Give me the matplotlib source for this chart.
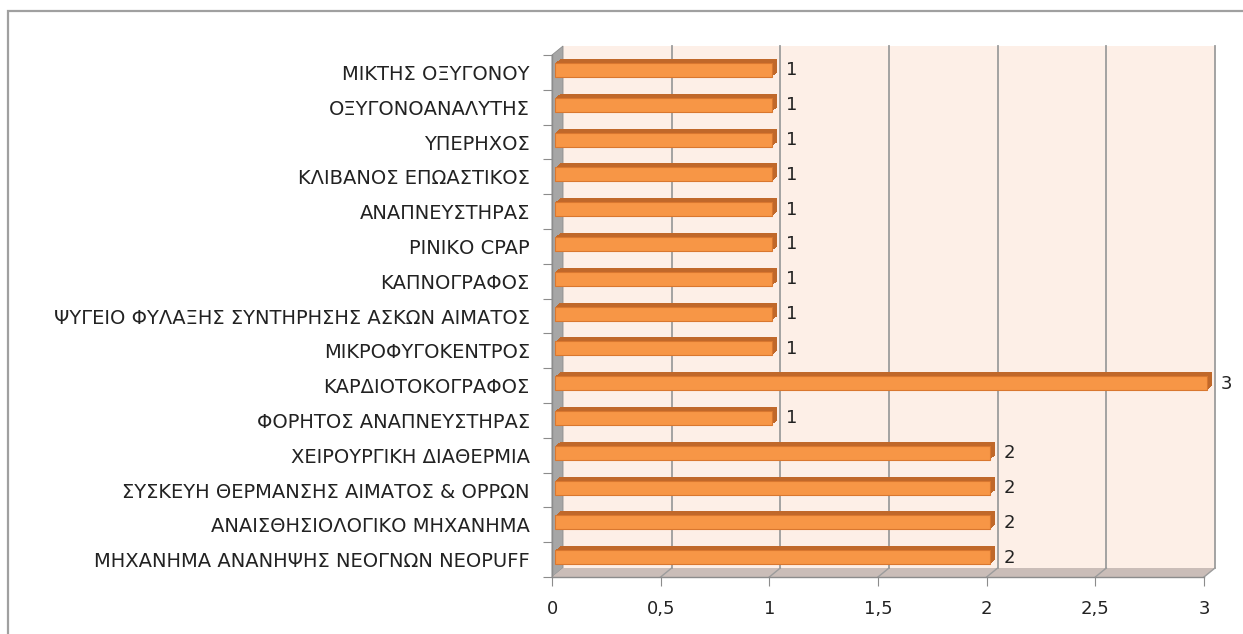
import matplotlib.pyplot as plt
from matplotlib.patches import Rectangle, Polygon
from matplotlib.transforms import offset_copy

# equipment names, top to bottom as in the chart
categories = [
    "ΜΙΚΤΗΣ ΟΞΥΓΟΝΟΥ",
    "ΟΞΥΓΟΝΟΑΝΑΛΥΤΗΣ",
    "ΥΠΕΡΗΧΟΣ",
    "ΚΛΙΒΑΝΟΣ ΕΠΩΑΣΤΙΚΟΣ",
    "ΑΝΑΠΝΕΥΣΤΗΡΑΣ",
    "ΡΙΝΙΚΟ CPAP",
    "ΚΑΠΝΟΓΡΑΦΟΣ",
    "ΨΥΓΕΙΟ ΦΥΛΑΞΗΣ ΣΥΝΤΗΡΗΣΗΣ ΑΣΚΩΝ ΑΙΜΑΤΟΣ",
    "ΜΙΚΡΟΦΥΓΟΚΕΝΤΡΟΣ",
    "ΚΑΡΔΙΟΤΟΚΟΓΡΑΦΟΣ",
    "ΦΟΡΗΤΟΣ ΑΝΑΠΝΕΥΣΤΗΡΑΣ",
    "ΧΕΙΡΟΥΡΓΙΚΗ ΔΙΑΘΕΡΜΙΑ",
    "ΣΥΣΚΕΥΗ ΘΕΡΜΑΝΣΗΣ ΑΙΜΑΤΟΣ & ΟΡΡΩΝ",
    "ΑΝΑΙΣΘΗΣΙΟΛΟΓΙΚΟ ΜΗΧΑΝΗΜΑ",
    "ΜΗΧΑΝΗΜΑ ΑΝΑΝΗΨΗΣ ΝΕΟΓΝΩΝ NEOPUFF",
]
counts = [1, 1, 1, 1, 1, 1, 1, 1, 1, 3, 1, 2, 2, 2, 2]

x_ticks = [0, 0.5, 1, 1.5, 2, 2.5, 3]
x_tick_labels = ["0", "0,5", "1", "1,5", "2", "2,5", "3"]

W, H = 1243, 634
fig = plt.figure(figsize=(W / 100, H / 100), dpi=100)
fig.patch.set_facecolor("white")

# outer chart frame (goes off the right and bottom edge)
fig.add_artist(Rectangle((8 / W, -0.05), 1.05, 1 - 11 / H + 0.05,
                         transform=fig.transFigure, fill=False,
                         edgecolor="#a0a0a0", linewidth=1.6, clip_on=False))

ax = fig.add_axes([552 / W, (H - 577) / H, 652 / W, 522 / H])
ax.set_xlim(0, 3)
ax.set_ylim(-0.5, len(categories) - 0.5)
ax.set_facecolor("none")
for s in ax.spines.values():
    s.set_visible(False)

n = len(categories)
ypos = list(range(n))[::-1]
y0, y1 = -0.5, n - 0.5

# depth of the fake 3d box, in data units
DX = 11 * 3 / 652
DY = 9 * n / 522

# back wall
ax.add_patch(Rectangle((DX, y0 + DY), 3, n, facecolor="#fdefe7",
                       edgecolor="none", zorder=0, clip_on=False))
# left side wall
ax.add_patch(Polygon([(0, y0), (0, y1), (DX, y1 + DY), (DX, y0 + DY)],
                     closed=True, facecolor="#a6a6a6", edgecolor="#8c8c8c",
                     linewidth=0.6, zorder=1, clip_on=False))
# floor
ax.add_patch(Polygon([(0, y0), (3, y0), (3 + DX, y0 + DY), (DX, y0 + DY)],
                     closed=True, facecolor="#cabdb8", edgecolor="none",
                     zorder=1, clip_on=False))

# gridlines on the back wall and their diagonals on the floor
for xv in x_ticks[1:]:
    ax.plot([xv + DX, xv + DX], [y0 + DY, y1 + DY], color="#9c9c9c",
            linewidth=1.3, zorder=1.5, clip_on=False)
    ax.plot([xv, xv + DX], [y0, y0 + DY], color="#9c9c9c",
            linewidth=1.0, zorder=1.5, clip_on=False)

# front axis lines
ax.plot([0, 3], [y0, y0], color="#8c8c8c", linewidth=1.0, zorder=2, clip_on=False)
ax.plot([0, 0], [y0, y1], color="#8c8c8c", linewidth=1.0, zorder=2, clip_on=False)

# bars: dark extrusion behind the orange front face
bar_h = 0.4
for k in range(8, 2, -1):
    tr = offset_copy(ax.transData, fig=fig, x=k, y=k * 0.8, units="dots")
    ax.barh(ypos, counts, height=bar_h, color="#c0682a", edgecolor="none",
            transform=tr, zorder=3, clip_on=False)
tr_front = offset_copy(ax.transData, fig=fig, x=3, y=2.4, units="dots")
ax.barh(ypos, counts, height=bar_h, color="#f79646", edgecolor="#d9772f",
        linewidth=0.8, transform=tr_front, zorder=4, clip_on=False)

# value labels
tr_lab = offset_copy(ax.transData, fig=fig, x=17, y=2, units="dots")
for yv, c in zip(ypos, counts):
    ax.text(c, yv, str(c), transform=tr_lab, ha="left", va="center",
            fontsize=13, color="#222222", zorder=5)

# ticks
ax.set_xticks(x_ticks)
ax.set_xticklabels(x_tick_labels)
ax.tick_params(axis="x", length=6.5, width=0.8, color="#8c8c8c",
               pad=10, labelsize=13, labelcolor="#222222")
ax.set_yticks(ypos)
ax.set_yticklabels(categories)
ax.set_yticks([b - 0.5 for b in range(n + 1)], minor=True)
ax.tick_params(axis="y", which="major", length=0, pad=16,
               labelsize=14, labelcolor="#222222")
ax.tick_params(axis="y", which="minor", length=6.5, width=0.8, color="#8c8c8c")

fig.savefig("out.png", dpi=100)
